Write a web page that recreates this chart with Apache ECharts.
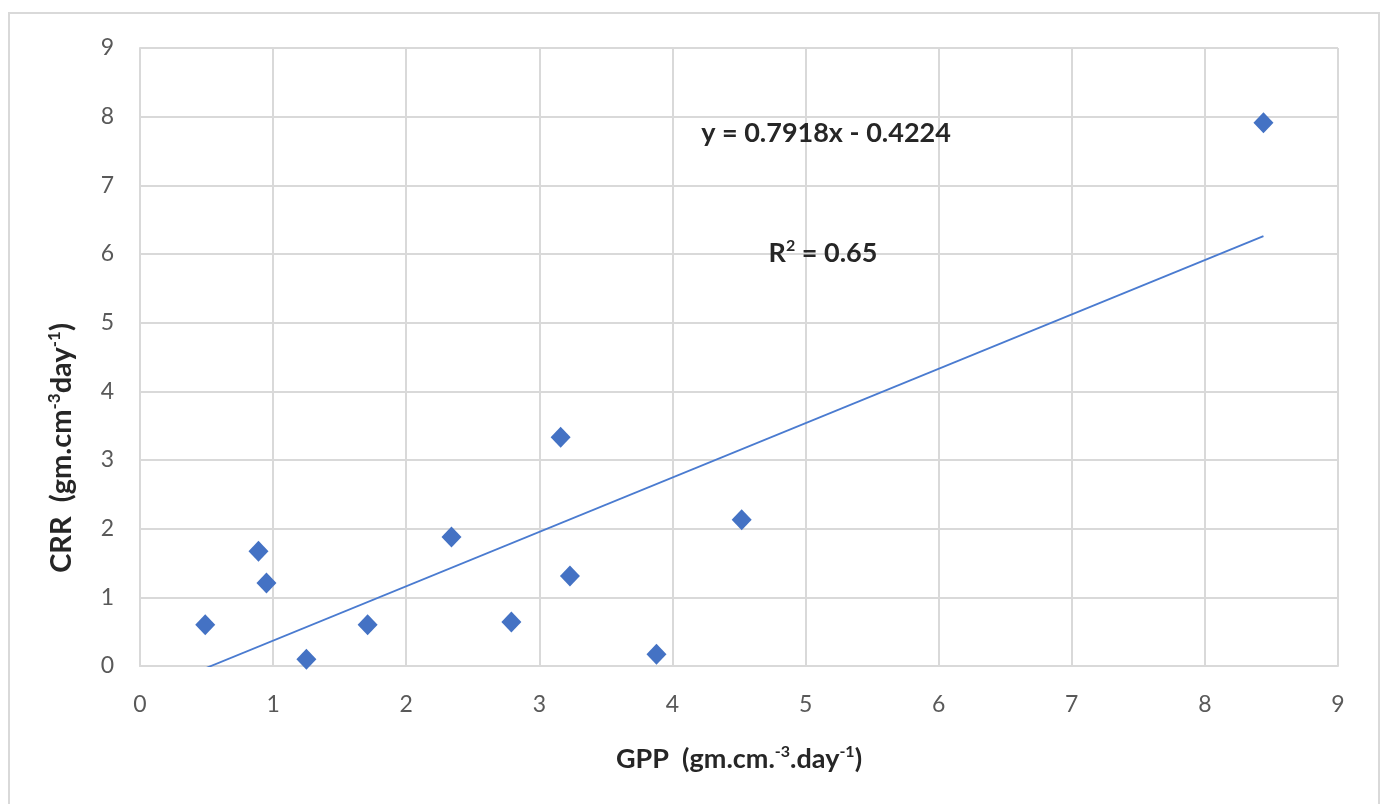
<!DOCTYPE html>
<html>
<head>
<meta charset="utf-8">
<script src="https://cdn.jsdelivr.net/npm/echarts@6/dist/echarts.min.js"></script>
<style>
  html, body { margin: 0; padding: 0; background: #ffffff; }
  #chart { width: 1386px; height: 804px; }
</style>
</head>
<body>
<div id="chart"></div>
<script>
// GPP (x) and CRR (y) observations
const gpp = [0.49, 0.89, 0.95, 1.25, 1.71, 2.34, 2.79, 3.16, 3.23, 3.88, 4.52, 8.44];
const crr = [0.60, 1.67, 1.21, 0.10, 0.60, 1.88, 0.64, 3.33, 1.31, 0.17, 2.13, 7.91];

// Linear trendline coefficients and fit quality
const slope = 0.7918;
const intercept = -0.4224;
const rSquared = 0.65;

const axisTicks = [0, 1, 2, 3, 4, 5, 6, 7, 8, 9];

const points = gpp.map((x, i) => [x, crr[i]]);

// Trendline spans the data range; the portion below 0 is clipped by the grid
const xMin = Math.min(...gpp);
const xMax = Math.max(...gpp);
const trend = [[xMin, slope * xMin + intercept], [xMax, slope * xMax + intercept]];

const FONT = 'Lato, "Open Sans", sans-serif';
const BLUE = '#4472C4';
const DARK = '#262626';

const eqText = 'y = ' + slope.toFixed(4) + 'x - ' + Math.abs(intercept).toFixed(4);

const titleRich = {
  b: { fontSize: 27, fontWeight: 'bold', color: DARK, fontFamily: FONT },
  s: { fontSize: 16, fontWeight: 'bold', color: DARK, fontFamily: FONT, verticalAlign: 'top', padding: [0, 0, 14, 0] }
};

const chart = echarts.init(document.getElementById('chart'), null, { renderer: 'canvas' });

chart.setOption({
  animation: false,
  backgroundColor: '#ffffff',
  grid: { left: 140, right: 48, top: 48, bottom: 138, containLabel: false },
  xAxis: {
    type: 'value',
    min: axisTicks[0],
    max: axisTicks[axisTicks.length - 1],
    interval: 1,
    axisLine: { show: true, lineStyle: { color: '#d9d9d9', width: 2 } },
    axisTick: { show: false },
    splitLine: { show: true, lineStyle: { color: '#d9d9d9', width: 2 } },
    axisLabel: { color: '#595959', fontSize: 23, fontFamily: FONT, margin: 27 },
    name: '{b|GPP  (gm.cm.}{s|-3}{b|.day}{s|-1}{b|)}',
    nameLocation: 'middle',
    nameGap: 78,
    nameTextStyle: { rich: titleRich }
  },
  yAxis: {
    type: 'value',
    min: axisTicks[0],
    max: axisTicks[axisTicks.length - 1],
    interval: 1,
    axisLine: { show: true, lineStyle: { color: '#d9d9d9', width: 2 } },
    axisTick: { show: false },
    splitLine: { show: true, lineStyle: { color: '#d9d9d9', width: 2 } },
    axisLabel: { color: '#595959', fontSize: 23, fontFamily: FONT, margin: 26 }
  },
  graphic: [
    {
      type: 'rect',
      shape: { x: 9, y: 13, width: 1370, height: 800 },
      style: { fill: 'none', stroke: '#d9d9d9', lineWidth: 2 },
      silent: true,
      z: -1
    },
    {
      // y-axis title, set lower than the axis midpoint
      type: 'text',
      x: 62, y: 448,
      rotation: Math.PI / 2,
      z: 10,
      style: {
        text: '{b|CRR  (gm.cm}{s|-3}{b|day}{s|-1}{b|)}',
        textAlign: 'center',
        textVerticalAlign: 'middle',
        rich: {
          b: { fontSize: 29, fontWeight: 'bold', fontFamily: FONT, fill: DARK },
          s: { fontSize: 17, fontWeight: 'bold', fontFamily: FONT, fill: DARK, verticalAlign: 'top', padding: [0, 0, 15, 0] }
        }
      }
    },
    {
      type: 'text',
      x: 826, y: 133,
      z: 10,
      style: {
        text: eqText,
        font: 'bold 27px ' + FONT,
        fill: DARK,
        textAlign: 'center',
        textVerticalAlign: 'middle'
      }
    },
    {
      type: 'text',
      x: 823, y: 253,
      z: 10,
      style: {
        text: '{b|R}{s|2}{b| = ' + rSquared.toFixed(2) + '}',
        textAlign: 'center',
        textVerticalAlign: 'middle',
        rich: {
          b: { fontSize: 27, fontWeight: 'bold', fontFamily: FONT, fill: DARK },
          s: { fontSize: 16, fontWeight: 'bold', fontFamily: FONT, fill: DARK, verticalAlign: 'top', padding: [0, 0, 14, 0] }
        }
      }
    }
  ],
  series: [
    {
      name: 'Trendline',
      type: 'line',
      data: trend,
      showSymbol: false,
      symbol: 'none',
      clip: true,
      lineStyle: { color: '#4a7bd0', width: 1.8 },
      z: 2
    },
    {
      name: 'CRR',
      type: 'scatter',
      data: points,
      symbol: 'diamond',
      symbolSize: [20, 21],
      itemStyle: { color: BLUE, opacity: 1 },
      z: 3
    }
  ]
});
</script>
</body>
</html>
